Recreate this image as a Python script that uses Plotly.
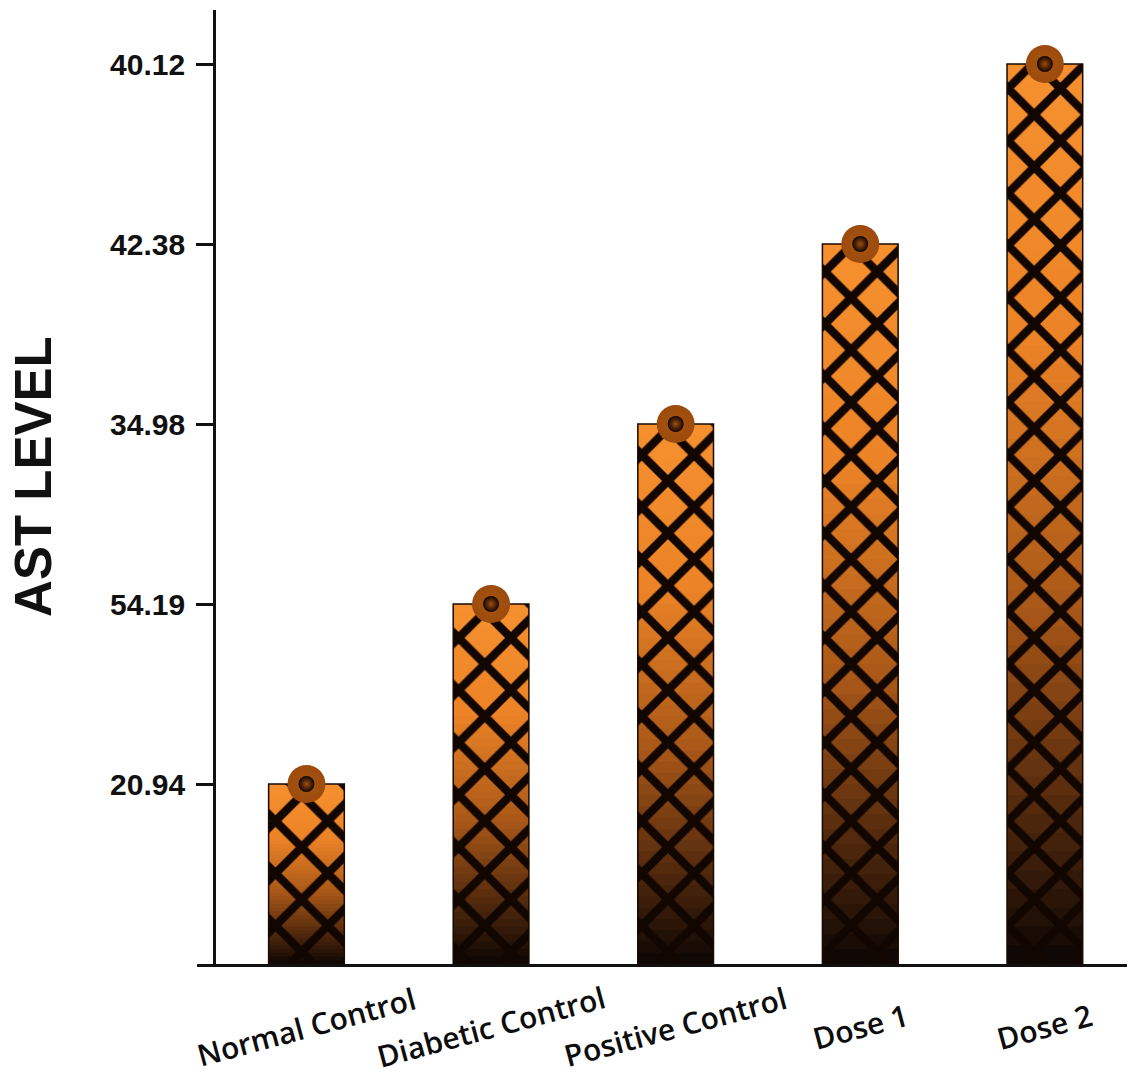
import plotly.graph_objects as go

# ---- data -------------------------------------------------------------
groups = ["Normal Control", "Diabetic Control", "Positive Control", "Dose 1", "Dose 2"]
ast_values = [20.94, 54.19, 34.98, 42.38, 40.12]   # labels shown on the y axis
bar_rank = [1, 2, 3, 4, 5]                          # bar heights on the ordinal axis

# ---- styling helpers ------------------------------------------------------
# vertical fill gradient: position measured from the top of each bar (0) to its base (1)
grad_stops = [
    (0.00, (246, 144, 46)),
    (0.30, (236, 131, 38)),
    (0.60, (170, 88, 24)),
    (0.85, (76, 38, 12)),
    (1.00, (16, 8, 4)),
]


def grad_color(t):
    for (t0, c0), (t1, c1) in zip(grad_stops[:-1], grad_stops[1:]):
        if t <= t1:
            f = (t - t0) / (t1 - t0) if t1 > t0 else 0
            r, g, b = (round(a + (bb - a) * f) for a, bb in zip(c0, c1))
            return f"rgb({r},{g},{b})"
    r, g, b = grad_stops[-1][1]
    return f"rgb({r},{g},{b})"


N_LAYERS = 48
BAR_WIDTH = 0.41

fig = go.Figure()

# nested bar layers, each shorter one drawn over the previous -> smooth gradient
for k in range(N_LAYERS):
    frac = 1 - k / N_LAYERS
    col = grad_color(k / (N_LAYERS - 1))
    fig.add_trace(go.Bar(
        x=groups,
        y=[r * frac for r in bar_rank],
        base=0,
        width=BAR_WIDTH,
        marker=dict(
            color=col,
            line=dict(width=0),
            pattern=dict(shape="x", fillmode="replace", fgcolor="#120600",
                         bgcolor=col, size=37, solidity=0.4),
        ),
        hoverinfo="skip",
        showlegend=False,
    ))

# bar outlines
fig.add_trace(go.Bar(
    x=groups,
    y=bar_rank,
    base=0,
    width=BAR_WIDTH,
    marker=dict(color="rgba(0,0,0,0)", line=dict(width=1.5, color="#1a0a02")),
    showlegend=False,
))

# spheres sitting on the bar tops
fig.add_trace(go.Scatter(
    x=groups, y=bar_rank, mode="markers",
    marker=dict(size=38, color="#9c4b0d",
                gradient=dict(type="radial", color="#a65510"),
                line=dict(width=0)),
    cliponaxis=False, showlegend=False,
))
fig.add_trace(go.Scatter(
    x=groups, y=bar_rank, mode="markers",
    marker=dict(size=16, color="#120400",
                gradient=dict(type="radial", color="#9e4d0e"),
                line=dict(width=0)),
    cliponaxis=False, showlegend=False,
))

# category labels under the axis, tilted
for g in groups:
    fig.add_annotation(
        x=g, y=-0.066, xref="x", yref="paper",
        text=g, showarrow=False, textangle=-15,
        xanchor="center", yanchor="middle",
        font=dict(family="Open Sans", size=30, color="#0d0d0d", weight=600),
    )

# y-axis title
fig.add_annotation(
    x=-0.1765, y=0.5115, xref="paper", yref="paper",
    text="<b>AST LEVEL</b>", showarrow=False, textangle=-90,
    xanchor="center", yanchor="middle",
    font=dict(family="Liberation Sans", size=51, color="#111111"),
)

fig.update_layout(
    width=1127, height=1079,
    margin=dict(l=197, r=0, t=10, b=115),
    paper_bgcolor="white", plot_bgcolor="white",
    barmode="overlay", showlegend=False,
    xaxis=dict(
        type="category", domain=[0, 1],
        range=[-0.593, 4.445],
        showline=True, linecolor="#111111", linewidth=2.7,
        showticklabels=False, ticks="", showgrid=False, zeroline=False,
    ),
    yaxis=dict(
        range=[0, 5.3], anchor="free", position=0.0183,
        showline=True, linecolor="#111111", linewidth=2.7,
        ticks="outside", ticklen=17, tickwidth=2.7, tickcolor="#111111",
        tickvals=bar_rank, ticktext=[f"{v:.2f}" for v in ast_values],
        tickfont=dict(family="Liberation Sans", size=30, color="#111111", weight="bold"),
        ticklabelstandoff=5,
        showgrid=False, zeroline=False,
    ),
)

fig.write_html("out.html")
